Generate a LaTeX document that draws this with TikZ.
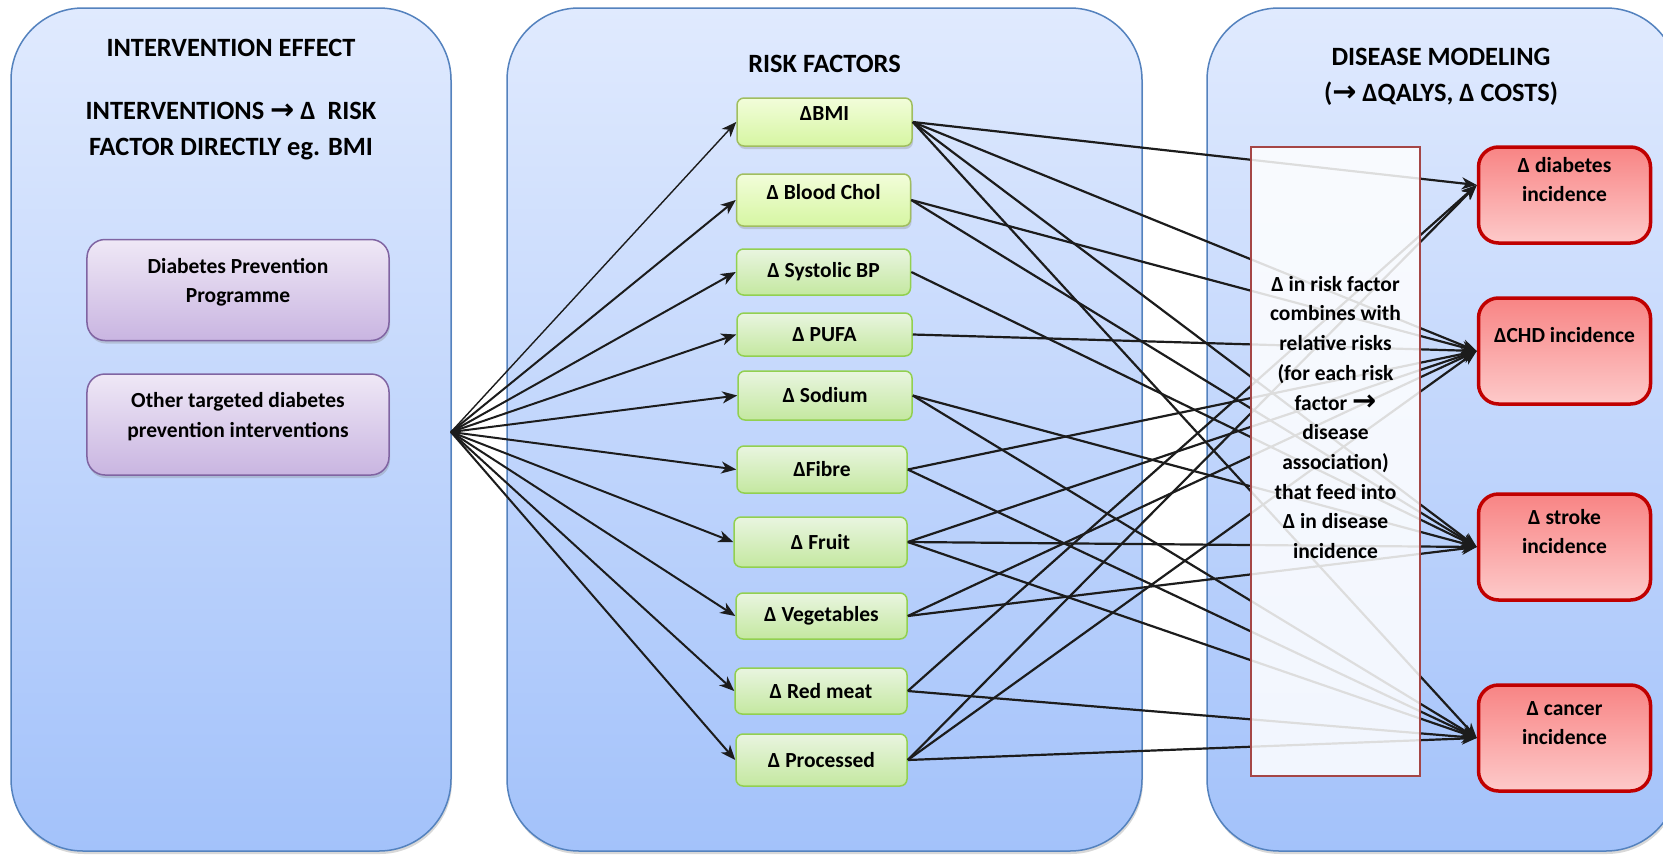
\documentclass[tikz,border=0pt]{standalone}
\usepackage{fontspec}
\setmainfont{Carlito}
\newfontfamily\arrowfont{DejaVu Sans}
\usepackage{tikz}
\usetikzlibrary{arrows.meta}
\usetikzlibrary{shadows}
\usepackage{xcolor}

\definecolor{panelline}{RGB}{84,130,190}
\definecolor{paneltop}{RGB}{224,234,254}
\definecolor{panelbot}{RGB}{163,194,250}
\definecolor{purpline}{RGB}{128,100,162}
\definecolor{purptop}{RGB}{239,232,246}
\definecolor{purpbot}{RGB}{201,181,225}
\definecolor{limeline}{RGB}{160,190,95}
\definecolor{limetop}{RGB}{242,253,218}
\definecolor{limebot}{RGB}{214,246,162}
\definecolor{greenline}{RGB}{146,208,80}
\definecolor{greentop}{RGB}{233,245,224}
\definecolor{greenbot}{RGB}{196,232,160}
\definecolor{redline}{RGB}{192,0,0}
\definecolor{redtop}{RGB}{248,132,132}
\definecolor{redbot}{RGB}{253,202,202}
\definecolor{mixline}{RGB}{165,70,70}
\definecolor{wire}{RGB}{28,28,28}

\newcommand{\rarr}{{\arrowfont\bfseries\fontsize{29}{36}\selectfont →}}
\newcommand{\boxrows}[1]{\begin{tabular}[b]{@{}c@{}}#1\end{tabular}}
\newcommand{\titlesize}{\fontsize{26.5}{36}\selectfont}
\newcommand{\boxsize}{\fontsize{21.6}{29.8}\selectfont}

\begin{document}
\begin{tikzpicture}[x=1bp, y=-1bp,
    panel/.style={draw=panelline, line width=1.5bp, rounded corners=72bp,
      top color=paneltop, bottom color=panelbot,
      drop shadow={shadow xshift=1bp, shadow yshift=-3bp, opacity=.3}},
    heading/.style={font=\titlesize\bfseries},
    plan/.style={draw=purpline, line width=1.5bp, rounded corners=18bp,
      top color=purptop, bottom color=purpbot, minimum width=302bp,
      minimum height=101bp, text depth=25bp, font=\boxsize\bfseries,
      drop shadow={shadow xshift=1bp, shadow yshift=-3bp, opacity=.3}},
    riskbox/.style={draw=greenline, line width=1.5bp, rounded corners=7bp,
      top color=greentop, bottom color=greenbot, minimum width=172bp,
      minimum height=47bp, inner sep=2bp, font=\boxsize\bfseries},
    limebox/.style={riskbox, draw=limeline, top color=limetop, bottom color=limebot,
      text depth=16bp,
      drop shadow={shadow xshift=1bp, shadow yshift=-3bp, opacity=.3}},
    outcome/.style={draw=redline, line width=3.5bp, rounded corners=20bp,
      top color=redtop, bottom color=redbot, minimum width=172bp,
      minimum height=106bp, text depth=37bp, font=\boxsize\bfseries},
    mixbox/.style={draw=mixline, line width=1.5bp, fill=white, fill opacity=.85,
      text opacity=1, minimum width=169bp, minimum height=629bp,
      text depth=94bp, font=\boxsize\bfseries},
    link/.style={draw=wire, line width=2.2bp,
      -{Stealth[length=15bp,width=12bp,inset=4.5bp]}}]

  \useasboundingbox (0,0) rectangle (1663,854);
  \clip (0,0) rectangle (1663,854);
  \fill[white] (0,0) rectangle (1663,854);

  %panels
  \path[panel] (11,8) rectangle (451,851);
  \path[panel] (507,8) rectangle (1142,851);
  \path[panel] (1207,8) rectangle (1678,851);

  %headings
  \node[heading] (effect) at (231,48) {INTERVENTION EFFECT};
  \node[heading] (direct) at (231,130) {\boxrows{INTERVENTIONS \rarr{} Δ~ RISK\\FACTOR DIRECTLY eg. BMI}};
  \node[heading] (riskhead) at (824.5,64) {RISK FACTORS};
  \node[heading] (modelhead) at (1441,76) {\boxrows{DISEASE MODELING\\(\rarr{} ΔQALYS, Δ COSTS)}};

  %interventions
  \node[plan] (dpp) at (238,290) {\boxrows{Diabetes Prevention\\Programme}};
  \node[plan] (other) at (238,424.5) {\boxrows{Other targeted diabetes\\prevention interventions}};

  %risk factors
  \node[limebox, minimum width=175bp, minimum height=48bp] (bmi) at (824.5,122) {ΔBMI};
  \node[limebox, minimum width=174bp, minimum height=52bp] (chol) at (823.5,200) {Δ Blood Chol};
  \node[riskbox, minimum width=174bp, minimum height=46bp] (sbp) at (823.5,272) {Δ Systolic BP};
  \node[riskbox, minimum width=175bp, minimum height=43bp] (pufa) at (824.5,334.5) {Δ PUFA};
  \node[riskbox, minimum width=174bp, minimum height=49bp] (sodium) at (825,395.5) {Δ Sodium};
  \node[riskbox, minimum width=170bp] (fibre) at (822,469.5) {ΔFibre};
  \node[riskbox, minimum width=173bp, minimum height=50bp] (fruit) at (820.5,542) {Δ Fruit};
  \node[riskbox, minimum width=171bp, minimum height=46bp] (veg) at (821.5,616) {Δ Vegetables};
  \node[riskbox, minimum width=172bp, minimum height=46bp] (redmeat) at (821,691) {Δ Red meat};
  \node[riskbox, minimum width=171bp, minimum height=52bp] (processed) at (821.5,760) {Δ Processed};

  %diseases
  \node[outcome, minimum height=96bp] (diab) at (1564.5,195) {\boxrows{Δ diabetes\\incidence}};
  \node[outcome] (chd) at (1564.5,351) {\boxrows{ΔCHD incidence}};
  \node[outcome] (stroke) at (1564.5,547) {\boxrows{Δ stroke\\incidence}};
  \node[outcome] (cancer) at (1564.5,738) {\boxrows{Δ cancer\\incidence}};

  \coordinate (fan) at (451,432);
  \coordinate (diabin) at ([yshift=10bp]diab.west);
  \coordinate (chdin) at (chd.west);
  \coordinate (strokein) at (stroke.west);
  \coordinate (cancerin) at (cancer.west);

  %interventions -> risk factors
  \draw[link, line width=1.4bp] (fan) -- (bmi.west);
  \foreach \rf in {chol,sbp,pufa,sodium,fibre,fruit,veg,redmeat,processed}
    \draw[link, line width=2bp] (fan) -- (\rf.west);

  %risk factors -> diseases
  \foreach \rf/\dz in {bmi/diabin, bmi/chdin, bmi/strokein, bmi/cancerin,
      chol/chdin, chol/strokein, sbp/strokein, pufa/chdin,
      sodium/strokein, sodium/cancerin, fibre/chdin, fibre/cancerin,
      fruit/chdin, fruit/strokein, fruit/cancerin, veg/chdin, veg/strokein,
      redmeat/diabin, redmeat/cancerin,
      processed/diabin, processed/chdin, processed/cancerin}
    \draw[link] (\rf.east) -- (\dz);

  %relative risks box, over the lines
  \node[mixbox] (combine) at (1335.5,461.5) {\boxrows{Δ in risk factor\\combines with\\relative risks\\(for each risk\\factor \rarr\\disease\\association)\\that feed into\\Δ in disease\\incidence}};
\end{tikzpicture}
\end{document}
